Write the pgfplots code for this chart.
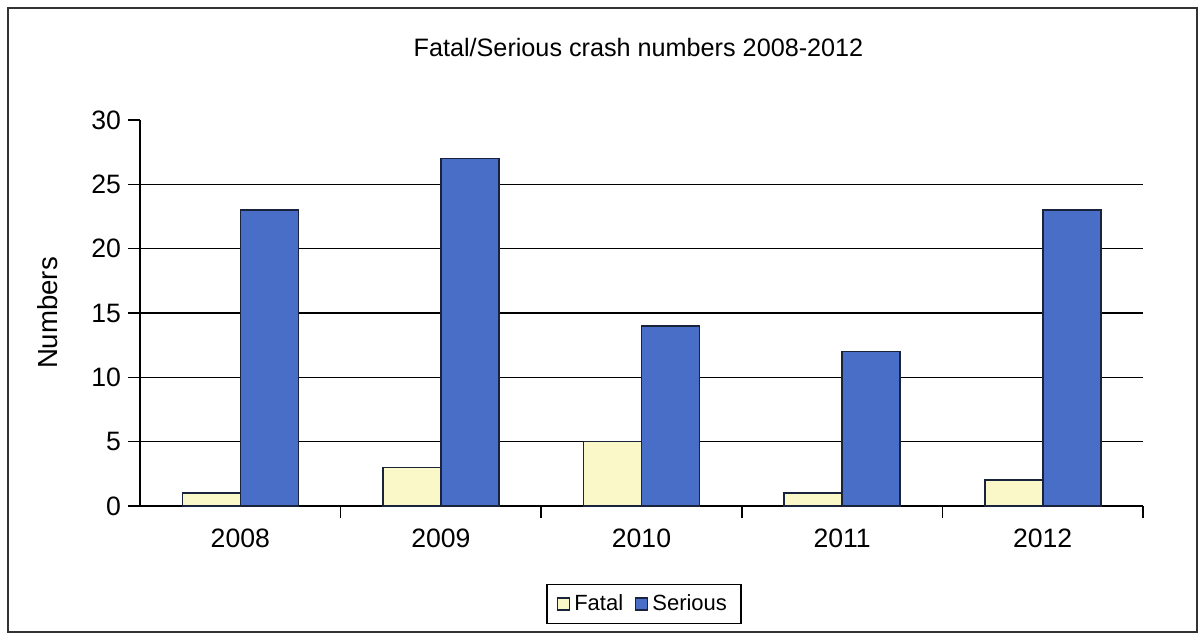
\documentclass[border=0pt]{standalone}
\usepackage{pgfplots}
\pgfplotsset{compat=1.18}
\usepackage{fontspec}
\setmainfont{Liberation Sans}
\definecolor{serblue}{RGB}{72,110,200}
\definecolor{fatyel}{RGB}{250,248,200}
\definecolor{edgec}{RGB}{25,35,60}
\begin{document}
\begin{tikzpicture}[x=1pt,y=1pt]
\fill[white] (0,0) rectangle (600,319.5);
\draw[line width=1pt,black!80] (4,3.5) rectangle (598.5,315.5);
\begin{axis}[
  at={(70pt,66.5pt)}, anchor=south west,
  scale only axis, width=501.5pt, height=193pt,
  ybar=0pt, bar width=29pt,
  xmin=-0.5, xmax=4.5, ymin=0, ymax=30,
  axis x line*=bottom, axis y line*=left,
  axis line style={black, line width=0.8pt},
  xtick={0.5,1.5,2.5,3.5,4.5}, xticklabels={},
  extra x ticks={0,1,2,3,4}, extra x tick labels={2008,2009,2010,2011,2012},
  extra x tick style={major tick length=0pt, grid=none, xticklabel style={yshift=-8pt}},
  ytick={0,5,...,25},
  extra y ticks={30}, extra y tick style={grid=none},
  ymajorgrids, grid style={black, line width=0.8pt},
  tick align=outside, major tick length=6pt,
  tick style={black, line width=0.8pt},
  ticklabel style={font=\fontsize{13.3}{15}\selectfont},
  /pgf/number format/assume math mode=true,
  ylabel={Numbers}, ylabel style={font=\fontsize{13.8}{16}\selectfont, yshift=-2pt},
  title={Fatal/Serious crash numbers 2008-2012},
  title style={font=\fontsize{12.6}{15}\selectfont, at={(0.497,1)}, yshift=22pt},
  legend style={at={(0.5025,-0.254)}, anchor=center, draw=black, line width=0.6pt,
    font=\fontsize{11}{13}\selectfont, legend columns=-1,
    /tikz/every even column/.append style={column sep=4pt},
    inner xsep=5pt, inner ysep=3pt},
  legend image code/.code={\draw[#1, line width=0.6pt] (0pt,-3pt) rectangle (6pt,3pt);},
  clip=false,
]
\addplot[fill=fatyel, draw=edgec, line width=0.8pt] coordinates {(0,1) (1,3) (2,5) (3,1) (4,2)};
\addplot[fill=serblue, draw=edgec, line width=0.8pt] coordinates {(0,23) (1,27) (2,14) (3,12) (4,23)};
\legend{Fatal,Serious}
\end{axis}
\end{tikzpicture}
\end{document}
